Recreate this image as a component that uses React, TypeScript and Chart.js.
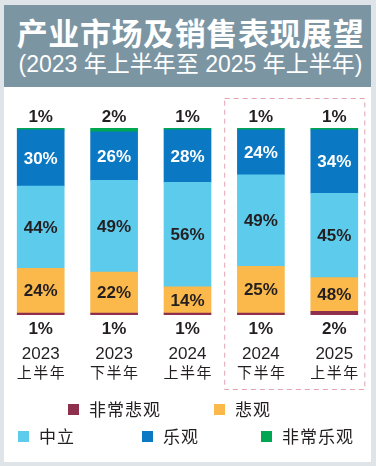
import React, { useEffect, useRef } from 'react';
import { Chart, registerables } from 'chart.js';
Chart.register(...registerables);

const years = ['2023', '2023', '2024', '2024', '2025'];
const halves = ['上半年', '下半年', '上半年', '下半年', '上半年'];
const veryPessimistic = [1, 1, 1, 1, 2];
const pessimistic = [24, 22, 14, 25, 18];
const pessimisticText = ['24%', '22%', '14%', '25%', '48%'];
const neutral = [44, 49, 56, 49, 45];
const optimistic = [30, 26, 28, 24, 34];
const veryOptimistic = [1, 2, 1, 1, 1];
const seriesNames = ['非常悲观', '悲观', '中立', '乐观', '非常乐观'];
const seriesColors = ['#8d2f4d', '#fbb84b', '#5dcbec', '#0a78c3', '#00a651'];

const DARK = '#231f20';
const NUM_FONT = '"Liberation Sans", Arial, sans-serif';
const CJK_FONT = '"Noto Sans CJK SC", sans-serif';

function drawSpaced(ctx: CanvasRenderingContext2D, text: string, x: number, y: number, pitch: number) {
  const chars = Array.from(text);
  chars.forEach((c, k) => ctx.fillText(c, x + k * pitch, y));
}

const labelPlugin = {
  id: 'customLabels',
  afterDraw(chart: any) {
    const ctx: CanvasRenderingContext2D = chart.ctx;
    const xs = chart.scales.x;
    const area = chart.chartArea;
    ctx.save();

    // dashed forecast box
    const left = (xs.getPixelForValue(2) + xs.getPixelForValue(3)) / 2;
    const right = xs.getPixelForValue(4) + 30;
    ctx.strokeStyle = '#e2a3b1';
    ctx.lineWidth = 1;
    ctx.setLineDash([5, 4]);
    ctx.strokeRect(left + 0.5, 11.5, right - left, 291);
    ctx.setLineDash([]);

    // segment labels
    ctx.textAlign = 'center';
    ctx.textBaseline = 'middle';
    chart.data.datasets.forEach((ds: any, i: number) => {
      const meta = chart.getDatasetMeta(i);
      meta.data.forEach((bar: any, j: number) => {
        const p = bar.getProps(['x', 'y', 'base'], true);
        const text = i === 1 ? pessimisticText[j] : ds.data[j] + '%';
        ctx.font = `bold 17px ${NUM_FONT}`;
        if (i === 0) {
          ctx.fillStyle = DARK;
          ctx.fillText(text, p.x, p.base + 14);
        } else if (i === 4) {
          ctx.fillStyle = DARK;
          ctx.fillText(text, p.x, p.y - 11);
        } else {
          ctx.fillStyle = i === 3 ? '#ffffff' : DARK;
          ctx.fillText(text, p.x, (p.y + p.base) / 2 + 1);
        }
      });
    });

    // category labels
    years.forEach((yr, j) => {
      const cx = xs.getPixelForValue(j);
      ctx.fillStyle = DARK;
      ctx.font = `17px ${NUM_FONT}`;
      ctx.textAlign = 'center';
      ctx.fillText(yr, cx, area.bottom + 39);
      ctx.font = `15px ${CJK_FONT}`;
      ctx.textAlign = 'left';
      drawSpaced(ctx, halves[j], cx - 24, area.bottom + 57, 16.5);
    });

    // legend
    const legendPos = [
      [64, 323], [210, 323], [14, 350], [138, 350], [257, 350],
    ];
    ctx.textAlign = 'left';
    ctx.font = `17px ${CJK_FONT}`;
    seriesNames.forEach((name, i) => {
      const [lx, ly] = legendPos[i];
      ctx.fillStyle = seriesColors[i];
      ctx.fillRect(lx, ly - 6, 11, 11);
      ctx.fillStyle = DARK;
      drawSpaced(ctx, name, lx + 21, ly, 18);
    });
    ctx.restore();
  },
};

function StackChart() {
  const ref = useRef<HTMLCanvasElement | null>(null);
  useEffect(() => {
    if (!ref.current) return;
    const values = [veryPessimistic, pessimistic, neutral, optimistic, veryOptimistic];
    const chart = new Chart(ref.current, {
      type: 'bar',
      data: {
        labels: years.map((y, i) => y + halves[i]),
        datasets: values.map((v, i) => ({
          label: seriesNames[i],
          data: v,
          backgroundColor: seriesColors[i],
          borderWidth: 0,
          barThickness: 47,
        })),
      },
      options: {
        animation: false,
        responsive: false,
        maintainAspectRatio: false,
        layout: { padding: { top: 41, bottom: 147, left: 0, right: 0 } },
        scales: {
          x: { stacked: true, display: false },
          y: { stacked: true, display: false, min: 0, max: 100 },
        },
        plugins: { legend: { display: false }, tooltip: { enabled: false } },
      },
      plugins: [labelPlugin],
    });
    return () => chart.destroy();
  }, []);
  return <canvas ref={ref} width={367} height={375} style={{ display: 'block' }} />;
}

export default function App() {
  return (
    <div
      style={{
        position: 'absolute',
        left: 0,
        top: 0,
        width: 376,
        height: 466,
        background: '#dfe4e8',
        boxSizing: 'border-box',
        paddingLeft: 4,
        paddingTop: 5,
      }}
    >
      <div
        style={{
          width: 367,
          height: 82,
          background: '#7c95a3',
          color: '#ffffff',
          textAlign: 'center',
          boxSizing: 'border-box',
          paddingLeft: 6,
        }}
      >
        <div
          style={{
            fontFamily: CJK_FONT,
            fontWeight: 700,
            fontSize: 31,
            letterSpacing: 0.6,
            lineHeight: '36px',
            paddingTop: 9,
            whiteSpace: 'nowrap',
          }}
        >
          产业市场及销售表现展望
        </div>
        <div
          style={{
            fontFamily: `"Liberation Sans", "Noto Sans CJK SC", sans-serif`,
            fontSize: 23,
            lineHeight: '28px',
            marginTop: 0,
            whiteSpace: 'nowrap',
          }}
        >
          (2023 年上半年至 2025 年上半年)
        </div>
      </div>
      <div style={{ width: 367, height: 375, background: '#ffffff' }}>
        <StackChart />
      </div>
    </div>
  );
}
